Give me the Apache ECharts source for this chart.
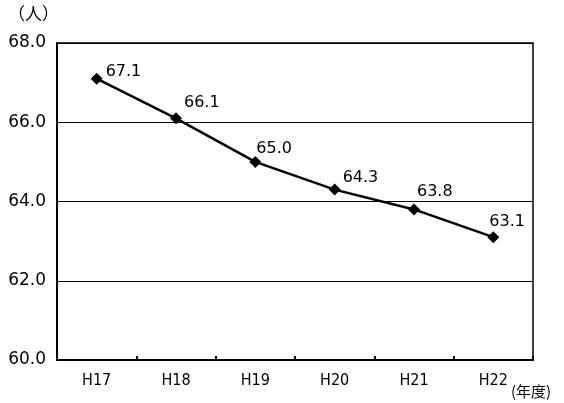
<!DOCTYPE html>
<html><head><meta charset="utf-8">
<script src="https://cdn.jsdelivr.net/npm/echarts@6/dist/echarts.min.js"></script>
<style>html,body{margin:0;padding:0;background:#fff}#c{width:564px;height:403px}</style>
</head><body><div id="c"></div>
<script>
const categories = ['H17','H18','H19','H20','H21','H22'];
const values = [67.1, 66.1, 65.0, 64.3, 63.8, 63.1];
const yTicks = {min: 60, max: 68, interval: 2};
const labelOffsets = [[9,11],[8,3],[1,5],[8,6],[3,0],[-4,3]];

const chart = echarts.init(document.getElementById('c'), null, {renderer:'canvas'});
chart.setOption({
  animation: false,
  backgroundColor: '#fff',
  grid: {left: 57, right: 31, top: 43, bottom: 43, containLabel: false,
    show: true, borderColor: '#000', borderWidth: 1.5, backgroundColor: 'transparent'},
  xAxis: {
    type: 'category', data: categories, boundaryGap: true,
    axisLine: {lineStyle: {color: '#000', width: 2}},
    axisTick: {show: true, inside: true, length: 4, lineStyle: {color: '#000', width: 2}},
    axisLabel: {color: '#000', fontFamily: '"Liberation Sans Narrow", "DejaVu Sans Condensed", sans-serif', fontSize: 16, margin: 13}
  },
  yAxis: {
    type: 'value', min: yTicks.min, max: yTicks.max, interval: yTicks.interval,
    axisLine: {show: true, lineStyle: {color: '#000', width: 2}},
    axisTick: {show: false},
    splitLine: {show: true, lineStyle: {color: '#000', width: 1}},
    axisLabel: {color: '#000', fontFamily: 'DejaVu Sans', fontSize: 17, margin: 11,
      formatter: v => v.toFixed(1)}
  },
  graphic: [
    {type: 'text', left: 8, top: 5, style: {text: '（人）', fill: '#000', font: '17px "Noto Sans CJK JP"'}},
    {type: 'text', left: 511, top: 384, style: {text: '(年度)', fill: '#000', font: '15px "Noto Sans CJK JP"'}}
  ],
  series: [{
    type: 'line',
    data: values.map((v, i) => ({value: v, label: {offset: labelOffsets[i]}})),
    symbol: 'diamond', symbolSize: 12,
    lineStyle: {color: '#000', width: 2.5},
    itemStyle: {color: '#000'},
    label: {show: true, position: 'top', align: 'left', distance: 4,
      color: '#000', fontFamily: 'DejaVu Sans', fontSize: 16,
      formatter: p => p.value.toFixed(1)}
  }]
});
</script></body></html>
